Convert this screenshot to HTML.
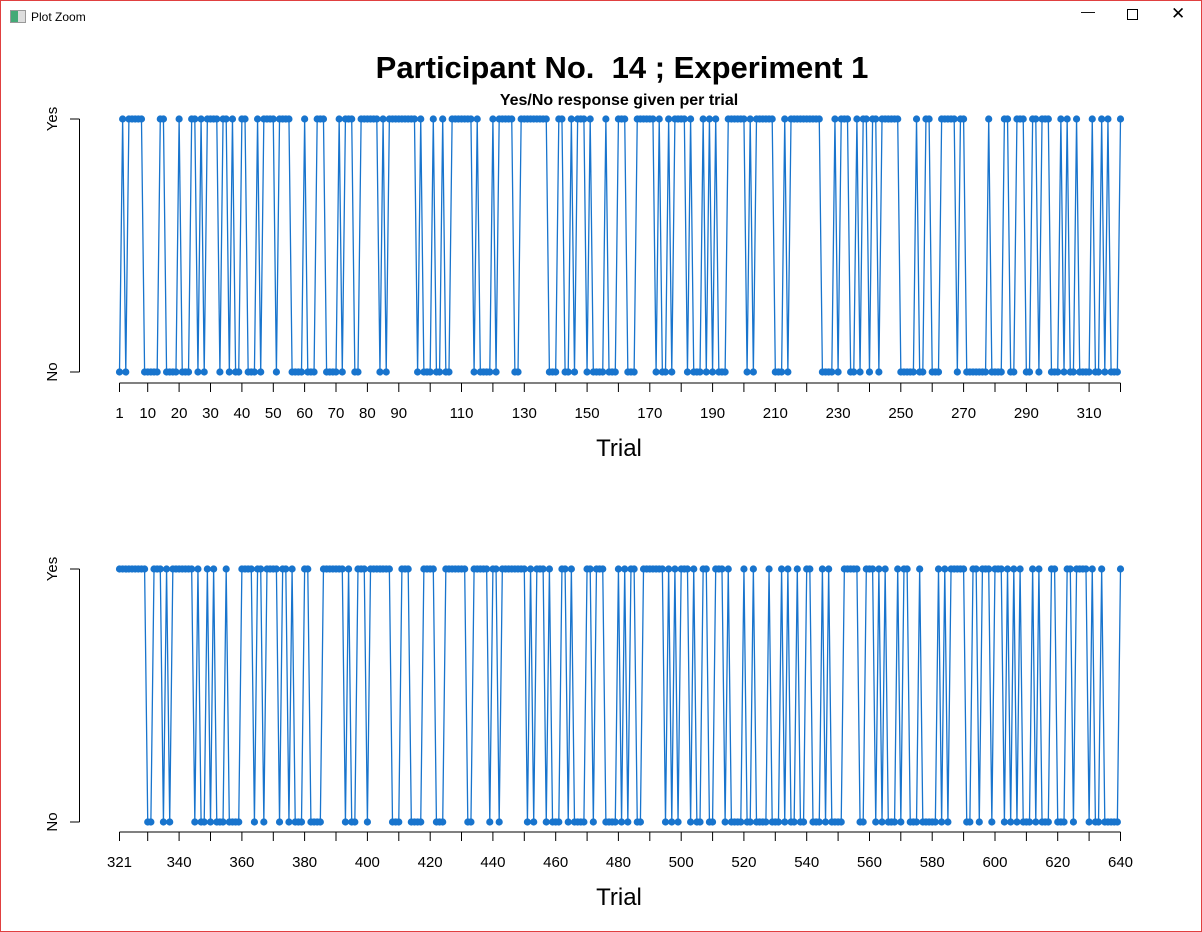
<!DOCTYPE html>
<html><head><meta charset="utf-8">
<style>
html,body{margin:0;padding:0;background:#fff;}
#win{position:relative;width:1200px;height:930px;border:1px solid #e04040;background:#fff;overflow:hidden;font-family:"Liberation Sans",sans-serif;}
#titlebar{position:absolute;left:0;top:0;width:1200px;height:30px;}
#titlebar .t{position:absolute;left:30px;top:9px;font-size:12px;color:#000;}
#titlebar .ic{position:absolute;left:9px;top:9px;width:14px;height:11px;border:1px solid #999;background:linear-gradient(90deg,#4a7 0 50%,#ddd 50%);}
.ctl{position:absolute;top:6px;font-size:14px;color:#000;}
</style></head><body>
<div id="win">
<div id="titlebar">
 <div class="ic"></div>
 <div class="t">Plot Zoom</div>
 <div class="ctl" style="left:1080px;top:2px">—</div>
 <div class="ctl" style="left:1126px;top:8px;width:9px;height:9px;border:1px solid #000"></div>
 <div class="ctl" style="left:1170px;top:3px;font-size:17px">✕</div>
</div>
<svg id="chart" width="1202" height="932" style="position:absolute;left:-1px;top:-1px"></svg>
</div>
<script>
// Yes trials (all others are No), panel 1: trials 1-320
const yesTop=[2,4,5,6,7,8,14,15,20,24,25,27,29,30,31,32,34,35,37,40,41,45,47,48,49,50,52,53,54,55,60,64,65,66,71,73,74,75,78,79,80,81,82,83,85,87,88,89,90,91,92,93,94,95,97,101,104,107,108,109,110,111,112,113,115,120,122,123,124,125,126,129,130,131,132,133,134,135,136,137,141,142,145,147,148,149,151,156,160,161,162,166,167,168,169,170,171,173,176,178,179,180,181,183,187,189,191,195,196,197,198,199,200,202,204,205,206,207,208,209,213,215,216,217,218,219,220,221,222,223,224,229,231,232,233,236,238,239,241,242,244,245,246,247,248,249,255,258,259,263,264,265,266,267,269,270,278,283,284,287,288,289,292,293,295,296,297,301,303,306,311,314,316,320];
// panel 2: trials 321-640
const yesBot=[321,322,323,324,325,326,327,328,329,332,333,334,336,338,339,340,341,342,343,344,346,349,351,355,360,361,362,363,365,366,368,369,370,371,373,374,376,380,381,386,387,388,389,390,391,392,394,397,398,399,401,402,403,404,405,406,407,411,412,413,418,419,420,421,425,426,427,428,429,430,431,434,435,436,437,438,440,441,443,444,445,446,447,448,449,450,452,454,455,456,458,462,463,465,470,471,473,474,475,480,482,484,485,488,489,490,491,492,493,494,496,498,500,501,502,504,507,508,511,512,513,515,520,523,528,532,534,537,540,541,545,547,552,553,554,555,556,559,560,561,563,565,569,571,572,576,582,584,586,587,588,589,590,593,594,596,597,598,600,601,602,604,606,608,612,614,618,619,623,624,626,627,628,629,631,634,640];
const topTicks=[1,10,20,30,40,50,60,70,80,90,100,110,120,130,140,150,160,170,180,190,200,210,220,230,240,250,260,270,280,290,300,310,320];
const topLabels=[1,10,20,30,40,50,60,70,80,90,110,130,150,170,190,210,230,250,270,290,310];
const botTicks=[321,330,340,350,360,370,380,390,400,410,420,430,440,450,460,470,480,490,500,510,520,530,540,550,560,570,580,590,600,610,620,630,640];
const botLabels=[321,340,360,380,400,420,440,460,480,500,520,540,560,580,600,620,640];

const NS='http://www.w3.org/2000/svg';
const svg=document.getElementById('chart');
function mk(tag,attrs,parent){const e=document.createElementNS(NS,tag);for(const k in attrs)e.setAttribute(k,attrs[k]);(parent||svg).appendChild(e);return e;}

const title=mk('text',{x:622,y:78,'text-anchor':'middle','font-size':31,'font-weight':'bold','font-family':'Liberation Sans, sans-serif'});
title.textContent='Participant No.\u00a0 14 ; Experiment 1';


const sub=mk('text',{x:619,y:105,'text-anchor':'middle','font-size':16,'font-weight':'bold','font-family':'Liberation Sans, sans-serif'});
sub.textContent='Yes/No response given per trial';



function panel(name,t0,t1,yesList,ticks,labels,yYes,yNo,yAxis){
  const g=mk('g',{});
  
  
  const x0=119.5,x1=1120.5;
  const xs=t=>x0+(t-t0)*(x1-x0)/(t1-t0);
  const set=new Set(yesList);
  const ys=t=>set.has(t)?yYes:yNo;
  let d='';
  for(let t=t0;t<=t1;t++){d+=(t===t0?'M':'L')+xs(t).toFixed(2)+' '+ys(t)+' ';}
  const line=mk('path',{d:d,fill:'none',stroke:'#1874CD','stroke-width':1.3},g);
  
  
  for(let t=t0;t<=t1;t++){
    const c=mk('circle',{cx:xs(t).toFixed(2),cy:ys(t),r:3.6,fill:'#1874CD'},g);
    
    
  }
  const ya=mk('path',{d:`M79.5 ${yYes} V ${yNo} M70 ${yYes} H79.5 M70 ${yNo} H79.5`,stroke:'#000','stroke-width':1,fill:'none'},g);
  
  
  [['Yes',yYes],['No',yNo]].forEach(([s,y])=>{
    const tx=mk('text',{x:0,y:0,transform:`translate(57,${y}) rotate(-90)`,'text-anchor':'middle','font-size':15,'font-family':'Liberation Sans, sans-serif'},g);
    tx.textContent=s;
    
    
  });
  let xd=`M${xs(ticks[0])} ${yAxis} H${xs(ticks[ticks.length-1])}`;
  ticks.forEach(t=>{xd+=` M${xs(t).toFixed(1)} ${yAxis} V${yAxis+9}`;});
  const xa=mk('path',{d:xd,stroke:'#000','stroke-width':1,fill:'none'},g);
  
  
  labels.forEach(t=>{
    const tx=mk('text',{x:xs(t),y:yAxis+35,'text-anchor':'middle','font-size':15,'font-family':'Liberation Sans, sans-serif'},g);
    tx.textContent=String(t);
    
    
  });
  const xt=mk('text',{x:619,y:yAxis+73,'text-anchor':'middle','font-size':24,'font-family':'Liberation Sans, sans-serif'},g);
  xt.textContent='Trial';
  
  
}
panel('top-panel',1,320,yesTop,topTicks,topLabels,119,372,383);
panel('bottom-panel',321,640,yesBot,botTicks,botLabels,569,822,832);
</script>
</body></html>
